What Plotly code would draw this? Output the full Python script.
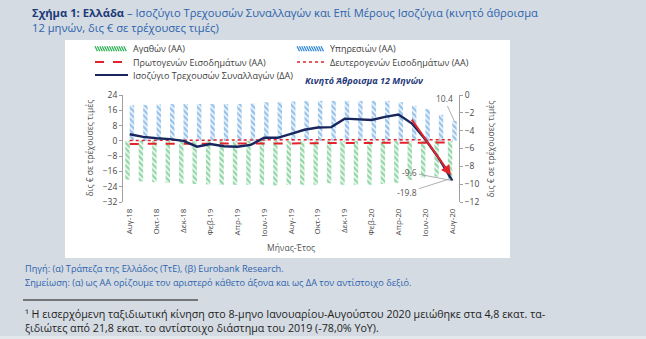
import plotly.graph_objects as go

# ---- data (12-month rolling sums, bn EUR) ----
months = ['Αυγ-18', 'Σεπ-18', 'Οκτ-18', 'Νοε-18', 'Δεκ-18', 'Ιαν-19', 'Φεβ-19', 'Μαρ-19',
          'Απρ-19', 'Μαϊ-19', 'Ιουν-19', 'Ιουλ-19', 'Αυγ-19', 'Σεπ-19', 'Οκτ-19', 'Νοε-19',
          'Δεκ-19', 'Ιαν-20', 'Φεβ-20', 'Μαρ-20', 'Απρ-20', 'Μαϊ-20', 'Ιουν-20', 'Ιουλ-20', 'Αυγ-20']
tick_labels = months[::2]

goods = [-20.3, -21.2, -21.6, -22.0, -22.4, -22.6, -22.8, -23.0, -23.0, -23.0, -23.0, -23.3, -23.0,
         -23.0, -23.0, -22.2, -23.0, -23.0, -23.0, -22.6, -22.0, -20.5, -19.2, -18.7, -19.8]
services = [18.6, 18.8, 19.0, 19.2, 19.3, 19.3, 19.3, 19.3, 19.3, 19.5, 20.2, 20.2, 20.6,
            20.9, 20.9, 20.9, 20.9, 20.9, 20.9, 20.9, 20.2, 18.4, 16.7, 13.6, 10.4]
primary_income = [-1.6, -1.6, -1.6, -1.5, -1.5, -1.5, -1.4, -1.4, -1.4, -1.4, -1.3, -1.3, -1.3,
                  -1.3, -1.2, -1.2, -1.2, -1.2, -1.1, -1.1, -1.0, -1.0, -0.9, -0.9, -0.8]
secondary_income = [0.2, 0.2, 0.3, 0.3, 0.3, 0.4, 0.4, 0.4, 0.5, 0.5, 0.5, 0.6, 0.6,
                    0.6, 0.7, 0.7, 0.7, 0.7, 0.7, 0.7, 0.7, 0.6, 0.6, 0.6, 0.6]
current_account = [-4.4, -4.7, -4.85, -4.95, -5.15, -5.8, -5.5, -5.75, -5.8, -5.6, -4.8, -4.8, -4.35,
                   -3.9, -3.65, -3.6, -2.65, -2.7, -2.8, -2.45, -2.2, -3.2, -5.0, -7.1, -9.6]

# ---- styling ----
W, H = 646, 339
BG = '#d4dbe2'
GREEN = '#2fb257'
BLUE = '#358ad6'
RED = '#e3232b'
NAVY = '#17275e'
TXT = '#404040'
FONT = 'Open Sans'

# plot-area box in pixels
PL, PR, PT, PB = 123, 459, 95, 202


def fx(px):
    return (px - PL) / (PR - PL)


def fy(py):
    return (PB - py) / (PB - PT)


fig = go.Figure()

fig.add_trace(go.Bar(
    x=months, y=goods, name='Αγαθών (ΑΑ)',
    marker=dict(color='white', line=dict(width=0),
                pattern=dict(shape='\\', fgcolor=GREEN, bgcolor='white', size=4, solidity=0.65)),
))
fig.add_trace(go.Bar(
    x=months, y=services, name='Υπηρεσιών (ΑΑ)',
    marker=dict(color='white', line=dict(width=0),
                pattern=dict(shape='\\', fgcolor=BLUE, bgcolor='white', size=4, solidity=0.65)),
))
fig.add_trace(go.Scatter(
    x=months, y=primary_income, mode='lines', name='Πρωτογενών Εισοδημάτων (ΑΑ)',
    line=dict(color=RED, width=2, dash='dash'),
))
fig.add_trace(go.Scatter(
    x=months, y=secondary_income, mode='lines', name='Δευτερογενών Εισοδημάτων (ΑΑ)',
    line=dict(color=RED, width=1.5, dash='dot'),
))
fig.add_trace(go.Scatter(
    x=months, y=current_account, mode='lines', name='Ισοζύγιο Τρεχουσών Συναλλαγών (ΔΑ)',
    line=dict(color=NAVY, width=2.4), yaxis='y2',
))

shapes = []
annotations = []

# white panel behind the chart
shapes.append(dict(type='rect', xref='paper', yref='paper', layer='below',
                   x0=fx(65), x1=fx(510), y0=fy(258), y1=fy(40),
                   fillcolor='white', line=dict(width=0)))
# lighter strip along the bottom edge of the page
shapes.append(dict(type='rect', xref='paper', yref='paper', layer='below',
                   x0=fx(0), x1=fx(W), y0=fy(H), y1=fy(336),
                   fillcolor='#e3e8ec', line=dict(width=0)))

# ---- legend (two columns, three rows) ----
def hatch_path(x0, x1, yc, h=5, step=2.4):
    parts = []
    x = x0
    while x + h * 0.5 <= x1:
        parts.append('M{:.4f},{:.4f} L{:.4f},{:.4f}'.format(
            fx(x), fy(yc - h / 2), fx(x + h * 0.5), fy(yc + h / 2)))
        x += step
    return ' '.join(parts)


rows = [48.7, 62, 75]
c1_sw, c1_tx = (95, 128), 131
c2_sw, c2_tx = (297, 325), 328

shapes.append(dict(type='path', xref='paper', yref='paper', path=hatch_path(*c1_sw, rows[0]),
                   line=dict(color=GREEN, width=1.3)))
shapes.append(dict(type='path', xref='paper', yref='paper', path=hatch_path(*c2_sw, rows[0]),
                   line=dict(color=BLUE, width=1.3)))
shapes.append(dict(type='line', xref='paper', yref='paper', x0=fx(c1_sw[0]), x1=fx(c1_sw[1]),
                   y0=fy(rows[1]), y1=fy(rows[1]), line=dict(color=RED, width=2, dash='dash')))
shapes.append(dict(type='line', xref='paper', yref='paper', x0=fx(c2_sw[0]), x1=fx(c2_sw[1]),
                   y0=fy(rows[1]), y1=fy(rows[1]), line=dict(color=RED, width=1.5, dash='dot')))
shapes.append(dict(type='line', xref='paper', yref='paper', x0=fx(c1_sw[0]), x1=fx(c1_sw[1]),
                   y0=fy(rows[2]), y1=fy(rows[2]), line=dict(color=NAVY, width=2)))

legend_items = [
    ('Αγαθών (ΑΑ)', c1_tx, rows[0]),
    ('Υπηρεσιών (ΑΑ)', c2_tx, rows[0]),
    ('Πρωτογενών Εισοδημάτων (ΑΑ)', c1_tx, rows[1]),
    ('Δευτερογενών Εισοδημάτων (ΑΑ)', c2_tx, rows[1]),
    ('Ισοζύγιο Τρεχουσών Συναλλαγών (ΔΑ)', c1_tx, rows[2]),
]
for txt, x, y in legend_items:
    annotations.append(dict(text=txt, xref='paper', yref='paper', x=fx(x), y=fy(y),
                            xanchor='left', yanchor='middle', showarrow=False,
                            font=dict(family=FONT, size=9, color=TXT)))

annotations.append(dict(text='<b><i>Κινητό Άθροισμα 12 Μηνών</i></b>', xref='paper', yref='paper',
                        x=fx(364), y=fy(80), xanchor='center', yanchor='middle', showarrow=False,
                        font=dict(family=FONT, size=9, color='#1f3a7a')))

# ---- title ----
annotations.append(dict(
    text='<b><span style="color:#1b3a78">Σχήμα 1: Ελλάδα</span></b> – Ισοζύγιο Τρεχουσών Συναλλαγών '
         'και Επί Μέρους Ισοζύγια (κινητό άθροισμα<br>12 μηνών, δις € σε τρέχουσες τιμές)',
    xref='paper', yref='paper', x=fx(30), y=fy(3), xanchor='left', yanchor='top', align='left',
    showarrow=False, font=dict(family=FONT, size=11.2, color='#2d63ad')))

# ---- axis titles ----
annotations.append(dict(text='δις € σε τρέχουσες τιμές', xref='paper', yref='paper',
                        x=fx(89), y=0.5, textangle=-90, showarrow=False,
                        xanchor='center', yanchor='middle',
                        font=dict(family=FONT, size=8.5, color='#555555')))
annotations.append(dict(text='δις € σε τρέχουσες τιμές', xref='paper', yref='paper',
                        x=fx(490), y=0.5, textangle=-90, showarrow=False,
                        xanchor='center', yanchor='middle',
                        font=dict(family=FONT, size=8.5, color='#555555')))
annotations.append(dict(text='Μήνας-Έτος', xref='paper', yref='paper', x=0.5, y=fy(247),
                        showarrow=False, xanchor='center', yanchor='middle',
                        font=dict(family=FONT, size=8.5, color='#555555')))

# ---- value call-outs for the latest month ----
last = len(months) - 1
lbl_font = dict(family=FONT, size=8.5, color='#555555')
annotations.append(dict(x=last, y=services[-1], xref='x', yref='y', xshift=2,
                        text='{:.1f}'.format(services[-1]), showarrow=True, arrowhead=0,
                        arrowwidth=0.8, arrowcolor='#9a9a9a', ax=-10, ay=-22, font=lbl_font))
annotations.append(dict(x=last, y=current_account[-1], xref='x', yref='y2',
                        text='{:.1f}'.format(current_account[-1]), showarrow=True, arrowhead=0,
                        arrowwidth=0.8, arrowcolor='#9a9a9a',
                        ax=last - 3.15, ay=-8.7, axref='x', ayref='y2', font=lbl_font))
annotations.append(dict(x=last, y=goods[-1], xref='x', yref='y', xshift=-2,
                        text='{:.1f}'.format(goods[-1]), showarrow=True, arrowhead=0,
                        arrowwidth=0.8, arrowcolor='#9a9a9a',
                        ax=last - 3.2, ay=-27.0, axref='x', ayref='y', font=lbl_font))

# trend arrow over the latest months
annotations.append(dict(x=last - 0.1, y=-9.0, xref='x', yref='y2', ax=last - 3.1, ay=-2.6,
                        axref='x', ayref='y2', showarrow=True, arrowhead=2, arrowsize=1,
                        arrowwidth=2, arrowcolor=RED, text=''))

# ---- footer ----
foot_blue = '#2d63ad'
annotations.append(dict(text='Πηγή: (α) Τράπεζα της Ελλάδος (ΤτΕ), (β) Eurobank Research.',
                        xref='paper', yref='paper', x=fx(23), y=fy(268), xanchor='left',
                        yanchor='middle', showarrow=False,
                        font=dict(family=FONT, size=9.2, color=foot_blue)))
annotations.append(dict(text='Σημείωση: (α) ως ΑΑ ορίζουμε τον αριστερό κάθετο άξονα και ως ΔΑ '
                             'τον αντίστοιχο δεξιό.',
                        xref='paper', yref='paper', x=fx(23), y=fy(282), xanchor='left',
                        yanchor='middle', showarrow=False,
                        font=dict(family=FONT, size=9.2, color=foot_blue)))
shapes.append(dict(type='line', xref='paper', yref='paper', x0=fx(23), x1=fx(198),
                   y0=fy(300), y1=fy(300), line=dict(color='#555555', width=1.5)))
annotations.append(dict(text='¹ Η εισερχόμενη ταξιδιωτική κίνηση στο 8-μηνο Ιανουαρίου-Αυγούστου '
                             '2020 μειώθηκε στα 4,8 εκατ. τα-<br>ξιδιώτες από 21,8 εκατ. το '
                             'αντίστοιχο διάστημα του 2019 (-78,0% YoY).',
                        xref='paper', yref='paper', x=fx(23), y=fy(305), xanchor='left',
                        yanchor='top', align='left', showarrow=False,
                        font=dict(family=FONT, size=10.7, color='#1e1e1e')))

fig.update_layout(
    width=W, height=H,
    margin=dict(l=PL, r=W - PR, t=PT, b=H - PB, pad=0),
    paper_bgcolor=BG, plot_bgcolor='white',
    barmode='group', bargap=0.34, bargroupgap=0,
    showlegend=False,
    font=dict(family=FONT, size=8.5, color=TXT),
    xaxis=dict(type='category', tickvals=tick_labels, ticktext=tick_labels, tickangle=-90,
               showgrid=False, zeroline=False, showline=False, ticks='',
               tickfont=dict(size=8, color='#444444'), ticklabelstandoff=4),
    yaxis=dict(range=[-32, 24], dtick=8, tick0=0, showgrid=False, zeroline=False,
               showline=True, linecolor='#a0a0a0', linewidth=1, ticks='outside', ticklen=3,
               tickcolor='#a0a0a0', tickfont=dict(size=8.5, color='#444444')),
    yaxis2=dict(range=[-12, 0], dtick=2, overlaying='y', side='right', showgrid=False,
                zeroline=False, showline=True, linecolor='#a0a0a0', linewidth=1,
                ticks='outside', ticklen=3, tickcolor='#a0a0a0',
                tickfont=dict(size=8.5, color='#444444')),
    shapes=shapes, annotations=annotations,
)

fig.write_html('out.html')
